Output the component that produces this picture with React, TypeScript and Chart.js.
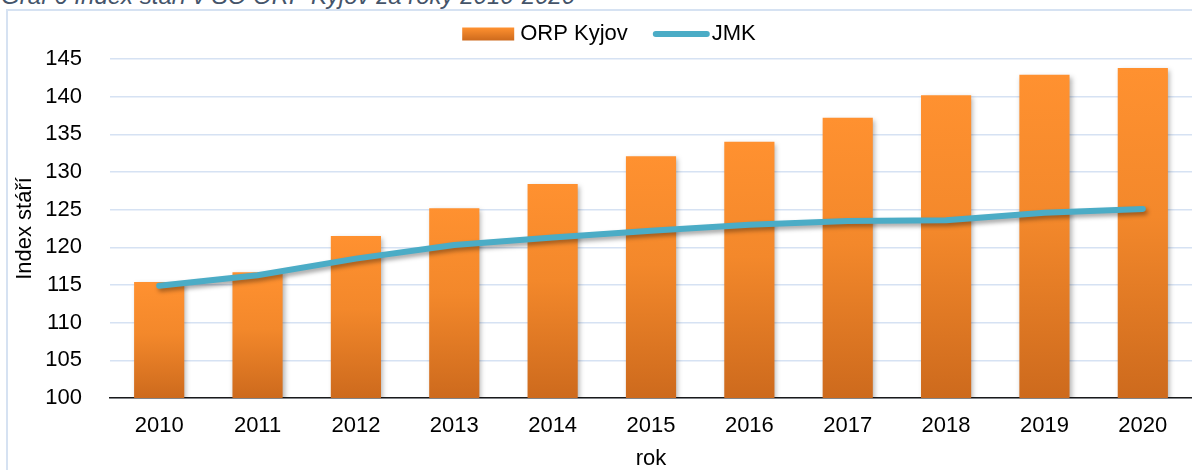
import React, { useEffect, useRef } from 'react';
import { Chart, registerables } from 'chart.js';

Chart.register(...registerables);

// ---- data ----
const years = ['2010', '2011', '2012', '2013', '2014', '2015', '2016', '2017', '2018', '2019', '2020'];
const orpKyjov = [115.4, 116.7, 121.5, 125.2, 128.4, 132.1, 134.0, 137.2, 140.2, 142.9, 143.8];
const jmk = [114.9, 116.3, 118.5, 120.3, 121.3, 122.2, 123.0, 123.5, 123.6, 124.6, 125.1];
const yMin = 100;
const yMax = 145;
const yStep = 5;
const seriesLabels = ['ORP Kyjov', 'JMK'];
const titleText = 'Graf 6 Index stáří v SO ORP Kyjov za roky 2010-2020';
const yAxisTitle = 'Index stáří';
const xAxisTitle = 'rok';

const FONT = '"Liberation Sans", Arial, sans-serif';
const ORANGE_TOP = '#FF9130';
const ORANGE_MID = '#F3882B';
const ORANGE_BOTTOM = '#CD6A1D';
const LINE_COLOR = '#4BACC6';

const shadowPlugin = {
  id: 'softShadow',
  beforeDatasetDraw(chart: any, args: any) {
    const ctx = chart.ctx;
    ctx.save();
    if (args.meta.type === 'bar') {
      ctx.shadowColor = 'rgba(0,0,0,0.30)';
      ctx.shadowBlur = 5;
      ctx.shadowOffsetX = 2;
      ctx.shadowOffsetY = 2;
    } else {
      ctx.shadowColor = 'rgba(0,0,0,0.35)';
      ctx.shadowBlur = 4;
      ctx.shadowOffsetX = 2;
      ctx.shadowOffsetY = 3;
    }
  },
  afterDatasetDraw(chart: any) {
    chart.ctx.restore();
  },
};

const legendPlugin = {
  id: 'excelLegend',
  afterDraw(chart: any) {
    const ctx = chart.ctx;
    const ds = chart.data.datasets;
    const barDs = ds.find((d: any) => d.type === 'bar');
    const lineDs = ds.find((d: any) => d.type === 'line');
    ctx.save();
    ctx.font = `22px ${FONT}`;
    ctx.textBaseline = 'middle';
    ctx.textAlign = 'left';
    ctx.fillStyle = '#000';
    const y = 34;
    const boxW = 52;
    const boxH = 13;
    const gap = 6;
    const itemGap = 25;
    const lineW = 57;
    const l1 = barDs.label;
    const l2 = lineDs.label;
    const w1 = ctx.measureText(l1).width;
    const w2 = ctx.measureText(l2).width;
    const total = boxW + gap + w1 + itemGap + lineW + 2 + w2;
    let x = 609 - total / 2;
    const g = ctx.createLinearGradient(0, y - boxH / 2, 0, y + boxH / 2);
    g.addColorStop(0, ORANGE_TOP);
    g.addColorStop(1, ORANGE_BOTTOM);
    ctx.fillStyle = g;
    ctx.fillRect(x, y - boxH / 2, boxW, boxH);
    x += boxW + gap;
    ctx.fillStyle = '#000';
    ctx.fillText(l1, x, y);
    x += w1 + itemGap;
    ctx.strokeStyle = LINE_COLOR;
    ctx.lineWidth = 6;
    ctx.lineCap = 'round';
    ctx.beginPath();
    ctx.moveTo(x + 3, y);
    ctx.lineTo(x + lineW - 3, y);
    ctx.stroke();
    x += lineW + 2;
    ctx.fillText(l2, x, y);
    ctx.restore();
  },
};

export default function App() {
  const canvasRef = useRef<HTMLCanvasElement | null>(null);

  useEffect(() => {
    if (!canvasRef.current) return;
    const chart = new Chart(canvasRef.current, {
      type: 'bar',
      data: {
        labels: years,
        datasets: [
          {
            type: 'bar',
            label: seriesLabels[0],
            data: orpKyjov,
            backgroundColor: (c: any) => {
              const ch = c.chart;
              const ys = ch.scales && ch.scales.y;
              if (!ys || c.raw == null) return ORANGE_TOP;
              const top = ys.getPixelForValue(c.raw);
              const bot = ys.getPixelForValue(yMin);
              if (!isFinite(top) || !isFinite(bot) || top === bot) return ORANGE_TOP;
              const g = ch.ctx.createLinearGradient(0, top, 0, bot);
              g.addColorStop(0, ORANGE_TOP);
              g.addColorStop(0.45, ORANGE_MID);
              g.addColorStop(1, ORANGE_BOTTOM);
              return g;
            },
            borderWidth: 0,
            barPercentage: 0.51,
            categoryPercentage: 1,
            order: 1,
          } as any,
          {
            type: 'line',
            label: seriesLabels[1],
            data: jmk,
            borderColor: LINE_COLOR,
            backgroundColor: LINE_COLOR,
            borderWidth: 6,
            borderCapStyle: 'round',
            borderJoinStyle: 'round',
            pointRadius: 0,
            tension: 0,
            order: 0,
          } as any,
        ],
      },
      options: {
        animation: false,
        responsive: false,
        maintainAspectRatio: false,
        layout: { padding: { top: 59, left: 0, right: 0, bottom: 0 } },
        plugins: {
          legend: { display: false },
          tooltip: { enabled: false },
          title: { display: false },
        },
        scales: {
          x: {
            type: 'category',
            offset: true,
            grid: { display: false, drawTicks: false },
            border: { display: true, color: '#1a1a1a', width: 1.5 },
            ticks: {
              color: '#000',
              font: { family: FONT, size: 22 },
              padding: 15,
              maxRotation: 0,
              autoSkip: false,
            },
            title: {
              display: true,
              text: xAxisTitle,
              color: '#000',
              font: { family: FONT, size: 22, lineHeight: 1 },
              padding: { top: 0, bottom: 0 },
            },
            afterFit: (scale: any) => {
              scale.height = 72;
            },
          },
          y: {
            type: 'linear',
            min: yMin,
            max: yMax,
            grid: { color: '#D6E2F3', lineWidth: 1.5, drawTicks: false },
            border: { display: false },
            ticks: {
              stepSize: yStep,
              color: '#000',
              font: { family: FONT, size: 22 },
              padding: 28,
            },
            title: {
              display: true,
              text: yAxisTitle,
              color: '#000',
              font: { family: FONT, size: 22, lineHeight: 1 },
              padding: { top: 14, bottom: 0 },
            },
            afterFit: (scale: any) => {
              scale.width = 110;
            },
          },
        },
      } as any,
      plugins: [shadowPlugin, legendPlugin],
    });
    return () => chart.destroy();
  }, []);

  return (
    <div
      style={{
        position: 'fixed',
        left: 0,
        top: 0,
        width: 1192,
        height: 470,
        overflow: 'hidden',
        background: '#fff',
      }}
    >
      <div
        style={{
          position: 'absolute',
          left: 1,
          top: -16,
          fontFamily: FONT,
          fontStyle: 'italic',
          fontSize: 24,
          lineHeight: '24px',
          color: '#44546A',
          whiteSpace: 'nowrap',
        }}
      >
        {titleText}
      </div>
      <div
        style={{
          position: 'absolute',
          left: 6,
          top: 9,
          width: 1220,
          height: 500,
          border: '2px solid #D6E2F2',
        }}
      />
      <canvas
        ref={canvasRef}
        width={1192}
        height={470}
        style={{ position: 'absolute', left: 0, top: 0, width: 1192, height: 470 }}
      />
    </div>
  );
}
